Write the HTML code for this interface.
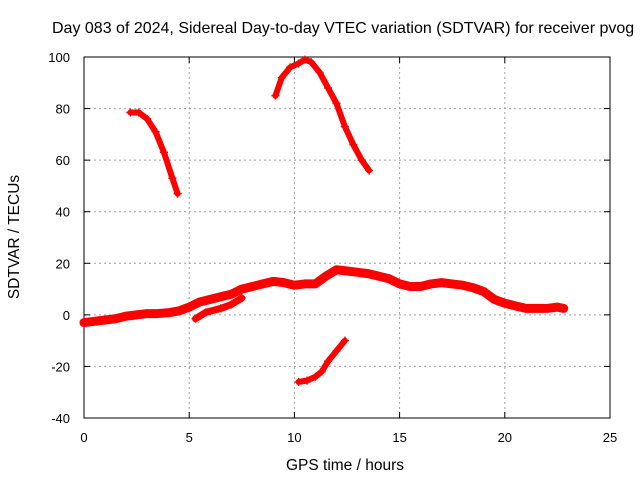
<!DOCTYPE html>
<html><head><meta charset="utf-8"><style>
body{margin:0;background:#fff;width:640px;height:480px;overflow:hidden}
text{font-family:"Liberation Sans",sans-serif;font-size:13px;fill:#000}
.big{font-size:15.5px}
.title{font-size:16px}
</style></head><body>
<svg id="chart" width="640" height="480" xmlns="http://www.w3.org/2000/svg">
<text class="title" x="52" y="33">Day 083 of 2024, Sidereal Day-to-day VTEC variation (SDTVAR) for receiver pvog</text>
<g id="grid"></g>
<g id="axes"></g>
<g id="series"></g>
<text class="big" x="345" y="470" text-anchor="middle">GPS time / hours</text>
<text class="big" transform="translate(19,237) rotate(-90)" text-anchor="middle">SDTVAR / TECUs</text>
</svg>
<script>
const xTicks=[0,5,10,15,20,25];
const yTicks=[-40,-20,0,20,40,60,80,100];
const mainX=[0,0.5,1,1.5,2,2.5,3,3.5,4,4.5,5,5.5,6,6.5,7,7.5,8,8.5,9,9.5,10,10.5,11,11.5,12,12.5,13,13.5,14,14.5,15,15.5,16,16.5,17,17.5,18,18.5,19,19.5,20,20.5,21,21.5,22,22.5,22.8];
const mainY=[-3,-2.5,-2,-1.5,-0.5,0,0.5,0.5,0.8,1.5,3,5,6,7,8,10,11,12,13,12.5,11.5,12,12,15,17.5,17,16.5,16,15,14,12,11,11,12,12.5,12,11.5,10.5,9,6,4.5,3.5,2.5,2.5,2.5,3,2.5];
const branchX=[5.3,5.8,6.5,7,7.5];
const branchY=[-1.5,1,2.5,4,6.5];
const upper1X=[2.2,2.6,3,3.4,3.8,4.2,4.45];
const upper1Y=[78.5,78.5,76,71,63,53,47];
const upper2X=[9.1,9.4,9.8,10.2,10.5,10.8,11.2,11.6,12,12.4,12.8,13.2,13.55];
const upper2Y=[85,92,96,97.5,99,98,94,88,82,73,66,60,56];
const lowerX=[10.2,10.6,11,11.3,11.6,12,12.4];
const lowerY=[-26,-25.5,-24,-22,-18,-14,-10];
const X0=84,X1=610,Y0=418,Y1=57;
const sx=v=>X0+(v-0)/25*(X1-X0);
const sy=v=>Y0-(v+40)/140*(Y0-Y1);
const NS="http://www.w3.org/2000/svg";
function mk(t,a,p){const e=document.createElementNS(NS,t);for(const k in a)e.setAttribute(k,a[k]);p.appendChild(e);return e;}
const grid=document.getElementById('grid'),axes=document.getElementById('axes'),ser=document.getElementById('series');
xTicks.forEach(t=>{const x=sx(t);
 if(t>0&&t<25){const l=mk('line',{x1:x,x2:x,y1:Y1,y2:Y0,stroke:'#a0a0a0','stroke-dasharray':'2,3'},grid);
 
 }
 mk('line',{x1:x,x2:x,y1:Y0,y2:Y0-6,stroke:'#000'},axes);mk('line',{x1:x,x2:x,y1:Y1,y2:Y1+6,stroke:'#000'},axes);
 const tx=mk('text',{x:x,y:Y0+24,'text-anchor':'middle'},axes);tx.textContent=t;
 
 });
yTicks.forEach(t=>{const y=sy(t);
 if(t>-40&&t<100){const l=mk('line',{x1:X0,x2:X1,y1:y,y2:y,stroke:'#a0a0a0','stroke-dasharray':'2,3'},grid);
 
 }
 mk('line',{x1:X0,x2:X0+6,y1:y,y2:y,stroke:'#000'},axes);mk('line',{x1:X1,x2:X1-6,y1:y,y2:y,stroke:'#000'},axes);
 const tx=mk('text',{x:X0-14,y:y+5,'text-anchor':'end'},axes);tx.textContent=t;
 
 });
mk('rect',{x:X0,y:Y1,width:X1-X0,height:Y0-Y1,fill:'none',stroke:'#000'},axes);
function draw(xs,ys,w,name){
 const pts=xs.map((x,i)=>sx(x)+','+sy(ys[i])).join(' ');
 const p=mk('polyline',{points:pts,fill:'none',stroke:'#f00','stroke-width':w,'stroke-linejoin':'round','stroke-linecap':'round'},ser);
 
 
 xs.forEach((x,i)=>{const cx=sx(x),cy=sy(ys[i]);
  mk('path',{d:`M${cx-4},${cy}H${cx+4}M${cx},${cy-4}V${cy+4}`,stroke:'#f00','stroke-width':1.5},ser);});
}
draw(mainX,mainY,9,'sdtvar-main-series');
draw(branchX,branchY,7,'sdtvar-branch-series');
draw(upper1X,upper1Y,6,'sdtvar-arc-1');
draw(upper2X,upper2Y,6,'sdtvar-arc-2');
draw(lowerX,lowerY,6,'sdtvar-negative-arc');
</script>
</body></html>
